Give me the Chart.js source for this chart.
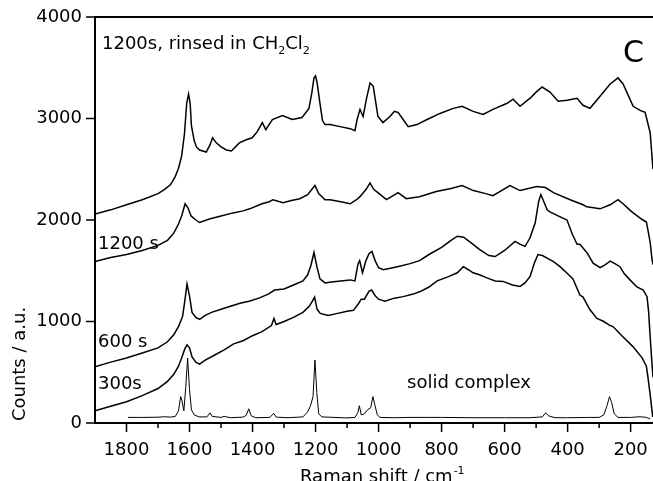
<!DOCTYPE html>
<html>
<head>
<meta charset="utf-8">
<script src="https://cdn.jsdelivr.net/npm/chart.js@4.4.1/dist/chart.umd.min.js"></script>
<style>
  html, body { margin: 0; padding: 0; background: #fff; }
  canvas { display: block; }
</style>
</head>
<body>
<canvas id="raman" width="653" height="481"></canvas>
<script>
// tick values
const xTickLabels = [1800, 1600, 1400, 1200, 1000, 800, 600, 400, 200];
const yTickLabels = [0, 1000, 2000, 3000, 4000];

// 1200 s, rinsed in CH2Cl2
const rinsedShift = [1900,1850,1800,1750,1700,1680,1660,1654,1645,1635,1625,1616,1609,1603,1598,1594,1585,1578,1568,1547,1535,1527,1515,1500,1483,1467,1442,1420,1401,1385,1369,1358,1337,1305,1274,1243,1221,1212,1205,1200,1195,1186,1178,1170,1154,1122,1090,1075,1068,1059,1049,1038,1027,1017,1002,986,964,950,938,922,906,878,846,805,763,735,700,668,637,592,573,551,519,500,481,456,430,402,370,351,329,297,265,240,224,192,170,154,138,129];
const rinsedCounts = [2060,2100,2150,2200,2260,2300,2350,2380,2430,2510,2630,2850,3150,3240,3150,2930,2780,2720,2690,2670,2740,2810,2760,2720,2690,2680,2760,2790,2810,2870,2960,2890,2990,3030,2990,3010,3100,3250,3400,3420,3350,3150,2980,2940,2940,2920,2900,2880,2990,3090,3020,3200,3350,3320,3020,2960,3020,3070,3060,2990,2920,2940,2990,3050,3100,3120,3070,3040,3090,3150,3190,3120,3200,3260,3310,3260,3170,3180,3200,3130,3100,3220,3340,3400,3340,3120,3080,3060,2860,2500];

// 1200 s
const s1200Shift = [1900,1850,1800,1750,1700,1670,1650,1635,1625,1614,1605,1595,1580,1568,1537,1500,1462,1430,1409,1370,1347,1335,1303,1280,1250,1225,1212,1202,1190,1170,1154,1120,1090,1070,1059,1040,1027,1015,1002,975,938,912,870,817,770,735,699,660,637,583,551,498,470,445,392,351,339,297,265,240,224,203,192,161,150,145,138,132,129];
const s1200Counts = [1590,1630,1660,1700,1750,1800,1870,1960,2040,2160,2120,2040,2000,1975,2010,2040,2070,2090,2110,2160,2180,2200,2170,2190,2210,2250,2300,2340,2260,2200,2200,2180,2160,2200,2230,2300,2365,2300,2270,2200,2270,2210,2230,2280,2310,2340,2290,2260,2240,2340,2290,2330,2320,2270,2200,2150,2130,2110,2150,2200,2160,2100,2070,2000,1980,1900,1780,1610,1560];

// 600 s
const s600Shift = [1900,1850,1800,1750,1700,1670,1650,1635,1622,1615,1608,1600,1592,1580,1568,1550,1530,1500,1470,1440,1411,1380,1350,1330,1300,1270,1240,1225,1215,1205,1195,1186,1170,1150,1120,1090,1075,1065,1060,1051,1040,1030,1021,1011,1000,985,970,940,900,870,840,800,770,750,730,700,680,650,630,600,567,550,535,520,503,492,485,478,465,456,430,402,385,370,361,338,319,297,280,265,250,234,220,202,180,160,148,143,138,133,129];
const s600Counts = [555,600,640,690,740,800,870,950,1050,1200,1370,1250,1090,1040,1020,1060,1090,1120,1150,1180,1200,1230,1270,1310,1320,1360,1400,1460,1550,1680,1530,1420,1380,1390,1400,1410,1400,1570,1600,1480,1600,1670,1690,1600,1530,1510,1520,1540,1570,1600,1660,1730,1800,1840,1830,1760,1710,1650,1640,1700,1790,1760,1740,1820,1970,2180,2250,2200,2100,2080,2040,2000,1860,1760,1760,1675,1575,1530,1560,1595,1570,1540,1470,1410,1340,1310,1245,1100,850,620,450];

// 300 s
const s300Shift = [1900,1850,1800,1750,1700,1670,1650,1635,1625,1615,1608,1600,1592,1580,1568,1550,1520,1490,1460,1430,1400,1370,1340,1332,1325,1300,1270,1240,1220,1210,1203,1195,1185,1160,1130,1100,1080,1065,1055,1045,1030,1022,1010,1000,980,950,922,890,868,840,814,780,750,731,715,700,680,656,630,605,575,551,535,519,505,494,480,465,445,424,400,383,361,351,330,307,285,265,256,234,215,192,163,150,145,138,132,130];
const s300Counts = [120,165,210,270,340,410,480,560,640,730,770,740,650,600,580,620,670,720,780,810,860,900,960,1030,970,1000,1040,1090,1150,1200,1240,1120,1080,1060,1080,1100,1110,1170,1220,1220,1300,1310,1250,1220,1200,1230,1245,1270,1295,1340,1400,1440,1480,1540,1510,1480,1460,1430,1400,1395,1360,1345,1380,1445,1580,1660,1650,1625,1590,1540,1470,1420,1260,1240,1120,1030,1000,960,950,880,820,750,640,560,450,280,120,60];

// solid complex
const solidShift = [1795,1750,1700,1680,1660,1645,1635,1628,1624,1618,1612,1606,1600,1594,1585,1570,1545,1535,1528,1500,1490,1470,1430,1420,1412,1404,1390,1345,1333,1325,1290,1240,1225,1216,1208,1202,1196,1190,1180,1100,1075,1066,1061,1055,1045,1035,1025,1018,1012,1004,995,950,900,850,800,700,600,520,480,470,460,440,400,330,300,285,275,267,260,252,240,200,170,150,138];
const solidCounts = [55,55,57,62,58,65,120,260,220,120,350,640,330,130,80,60,60,100,65,55,65,52,58,75,140,70,52,55,95,58,52,60,110,170,260,620,300,90,60,50,55,100,170,80,90,130,150,260,180,80,55,52,55,55,55,52,52,52,60,100,70,52,52,55,55,80,170,260,200,90,55,55,62,55,40];

const FONT = '"DejaVu Sans", sans-serif';

function toPoints(xs, ys) {
    return xs.map((v, i) => ({ x: v, y: ys[i] }));
}

function lineSet(label, xs, ys, width) {
    return {
        label: label,
        data: toPoints(xs, ys),
        borderColor: '#000',
        borderWidth: width,
        pointRadius: 0,
        tension: 0,
        fill: false
    };
}

// ticks, x labels, top frame and the text labels
const decor = {
    id: 'decor',
    afterDraw(chart) {
        const { ctx, chartArea: a, scales: { x, y } } = chart;
        ctx.save();
        ctx.strokeStyle = '#000';
        ctx.lineWidth = 2;
        ctx.beginPath();
        ctx.moveTo(a.left, a.top);
        ctx.lineTo(a.right, a.top);
        ctx.stroke();

        ctx.lineWidth = 1.5;
        ctx.beginPath();
        for (let v = 200; v <= 1800; v += 100) {
            const px = x.getPixelForValue(v);
            ctx.moveTo(px, a.bottom);
            ctx.lineTo(px, a.bottom + (v % 200 ? 5 : 9));
        }
        yTickLabels.forEach(v => {
            const py = y.getPixelForValue(v);
            ctx.moveTo(a.left, py);
            ctx.lineTo(a.left - 9, py);
        });
        ctx.stroke();

        ctx.fillStyle = '#000';
        const big = '18px ' + FONT, small = '11px ' + FONT;

        // x tick labels
        ctx.font = big;
        ctx.textAlign = 'center';
        ctx.textBaseline = 'alphabetic';
        xTickLabels.forEach(v => {
            ctx.fillText(String(v), x.getPixelForValue(v), 455);
        });

        ctx.textAlign = 'left';
        // title with subscripts
        let cx = 102;
        const parts = [['1200s, rinsed in CH', 0], ['2', 1], ['Cl', 0], ['2', 1]];
        parts.forEach(([t, sub]) => {
            ctx.font = sub ? small : big;
            ctx.fillText(t, cx, sub ? 54 : 49);
            cx += ctx.measureText(t).width;
        });

        ctx.font = big;
        ctx.fillText('1200 s', 98, 249);
        ctx.fillText('600 s', 98, 347);
        ctx.fillText('300s', 98, 389);
        ctx.fillText('solid complex', 407, 388);

        ctx.font = '30px ' + FONT;
        ctx.fillText('C', 623, 62);

        // axis titles
        ctx.font = big;
        const xt = 'Raman shift / cm';
        ctx.fillText(xt, 300, 482);
        const w = ctx.measureText(xt).width;
        ctx.font = small;
        ctx.fillText('-1', 300 + w + 1, 474);

        ctx.font = big;
        ctx.translate(25, 364);
        ctx.rotate(-Math.PI / 2);
        ctx.textAlign = 'center';
        ctx.fillText('Counts / a.u.', 0, 0);
        ctx.restore();
    }
};

new Chart(document.getElementById('raman').getContext('2d'), {
    type: 'line',
    data: {
        datasets: [
            lineSet('1200s, rinsed in CH2Cl2', rinsedShift, rinsedCounts, 1.5),
            lineSet('1200 s', s1200Shift, s1200Counts, 1.5),
            lineSet('600 s', s600Shift, s600Counts, 1.5),
            lineSet('300s', s300Shift, s300Counts, 1.5),
            lineSet('solid complex', solidShift, solidCounts, 1)
        ]
    },
    options: {
        responsive: false,
        animation: false,
        devicePixelRatio: 1,
        layout: { padding: { top: 17, right: 0, left: 0, bottom: 0 } },
        plugins: { legend: { display: false }, tooltip: { enabled: false } },
        scales: {
            x: {
                type: 'linear',
                reverse: true,
                min: 129,
                max: 1900,
                afterFit: s => { s.height = 58; s.paddingLeft = 0; s.paddingRight = 0; },
                grid: { display: false, drawTicks: false },
                border: { display: true, color: '#000', width: 2 },
                ticks: { display: false }
            },
            y: {
                min: 0,
                max: 4000,
                afterFit: s => { s.width = 95; s.paddingTop = 0; s.paddingBottom = 0; },
                grid: { display: false, drawTicks: false },
                border: { display: true, color: '#000', width: 2 },
                ticks: {
                    stepSize: 1000,
                    padding: 13,
                    color: '#000',
                    font: { family: FONT, size: 18 },
                    callback: v => yTickLabels.includes(v) ? String(v) : ''
                }
            }
        }
    },
    plugins: [decor]
});
</script>
</body>
</html>
